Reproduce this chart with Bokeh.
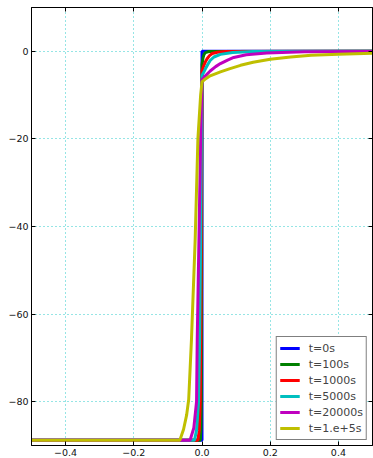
from bokeh.plotting import figure
from bokeh.models import FixedTicker, LinearAxis, Range1d, Legend, LegendItem
from bokeh.embed import file_html
from bokeh.resources import INLINE

# ---- data ----
labels = ["t=0s", "t=100s", "t=1000s", "t=5000s", "t=20000s", "t=1.e+5s"]
colors = ["#0000ff", "#008000", "#ff0000", "#00bfbf", "#bf00bf", "#bfbf00"]

x_t0 = [-0.5, 0.0, 0.0, 0.5]
y_t0 = [-88.8, -88.8, 0.0, 0.0]

x_t100 = [-0.5, -0.005, -0.003, -0.002, -0.001, 0.0, 0.003, 0.006, 0.01, 0.02, 0.5]
y_t100 = [-88.8, -88.8, -86.0, -80.0, -40.0, -3.0, -1.5, -0.7, -0.3, -0.05, 0.0]

x_t1000 = [-0.5, -0.012, -0.008, -0.005, -0.003, -0.001, 0.0, 0.005, 0.01, 0.015, 0.022, 0.03, 0.045, 0.07, 0.5]
y_t1000 = [-88.8, -88.8, -86.5, -80.0, -60.0, -20.0, -4.5, -3.3, -2.4, -1.7, -1.0, -0.5, -0.2, -0.05, 0.0]

x_t5000 = [-0.5, -0.022, -0.016, -0.010, -0.007, -0.004, -0.002, 0.0, 0.005, 0.01, 0.017, 0.024, 0.035, 0.054, 0.09, 0.15, 0.5]
y_t5000 = [-88.8, -88.8, -86.5, -80.0, -66.0, -43.0, -20.0, -5.5, -4.8, -4.0, -3.0, -2.1, -1.3, -0.7, -0.25, -0.05, 0.0]

x_t20000 = [-0.5, -0.035, -0.024, -0.016, -0.014, -0.009, -0.004, -0.001, 0.0, 0.01, 0.024, 0.04, 0.054, 0.075, 0.093, 0.13, 0.19, 0.3, 0.5]
y_t20000 = [-88.8, -88.8, -86.0, -80.0, -66.0, -43.0, -20.0, -10.0, -6.5, -5.6, -4.5, -3.5, -2.8, -2.0, -1.4, -0.8, -0.4, -0.12, -0.02]

x_t1e5 = [-0.5, -0.065, -0.054, -0.045, -0.039, -0.031, -0.020, -0.012, -0.004, 0.0, 0.01, 0.024, 0.054, 0.08, 0.113, 0.15, 0.2, 0.26, 0.32, 0.4, 0.5]
y_t1e5 = [-88.8, -88.8, -86.3, -83.0, -79.5, -66.0, -43.0, -20.0, -10.0, -7.0, -6.3, -5.6, -4.7, -4.0, -3.2, -2.5, -1.8, -1.3, -0.9, -0.65, -0.45]

x_ticks = [-0.4, -0.2, 0.0, 0.2, 0.4]
x_tick_labels = ["\u22120.4", "\u22120.2", "0.0", "0.2", "0.4"]
y_ticks = [-80, -60, -40, -20, 0]
y_tick_labels = ["\u221280", "\u221260", "\u221240", "\u221220", "0"]

series_x = [x_t0, x_t100, x_t1000, x_t5000, x_t20000, x_t1e5]
series_y = [y_t0, y_t100, y_t1000, y_t5000, y_t20000, y_t1e5]

FONT = "DejaVu Sans"

p = figure(width=373, height=458, output_backend="svg", toolbar_location=None,
           x_range=Range1d(-0.5, 0.5), y_range=Range1d(-90, 10),
           min_border_left=31, min_border_right=1, min_border_top=7, min_border_bottom=12)
p.outline_line_color = "black"
p.outline_line_width = 1
p.background_fill_color = "white"
p.border_fill_color = "white"

renderers = []
for xs, ys, c in zip(series_x, series_y, colors):
    r = p.line(xs, ys, line_color=c, line_width=3)
    renderers.append(r)

# axes
for ax in p.xaxis:
    ax.ticker = FixedTicker(ticks=x_ticks)
    ax.major_label_overrides = {t: l for t, l in zip(x_ticks, x_tick_labels)}
for ax in p.yaxis:
    ax.ticker = FixedTicker(ticks=y_ticks)
    ax.major_label_overrides = {t: l for t, l in zip(y_ticks, y_tick_labels)}

for ax in list(p.xaxis) + list(p.yaxis):
    ax.major_tick_in = 4
    ax.major_tick_out = 0
    ax.minor_tick_line_color = None
    ax.major_label_text_font = FONT
    ax.major_label_text_font_size = "9.5px"
    ax.major_label_text_color = "#111111"
    ax.axis_line_color = "black"
    ax.major_tick_line_color = "black"
    ax.major_label_standoff = 3

# tick marks only (no labels) on top and right, as in the reference
top = LinearAxis(ticker=FixedTicker(ticks=x_ticks),
                 major_label_overrides={t: "" for t in x_ticks},
                 major_tick_in=4, major_tick_out=0, minor_tick_line_color=None,
                 major_label_standoff=0, axis_line_color="black")
right = LinearAxis(ticker=FixedTicker(ticks=y_ticks),
                   major_label_overrides={t: "" for t in y_ticks},
                   major_tick_in=4, major_tick_out=0, minor_tick_line_color=None,
                   major_label_standoff=0, axis_line_color="black")
p.add_layout(top, "above")
p.add_layout(right, "right")

# grid
for g in list(p.xgrid) + list(p.ygrid):
    g.grid_line_color = "#2ccaca"
    g.grid_line_dash = "1 3"
    g.grid_line_width = 1
p.xgrid.ticker = FixedTicker(ticks=x_ticks)
p.ygrid.ticker = FixedTicker(ticks=y_ticks)

legend = Legend(items=[LegendItem(label=l, renderers=[r]) for l, r in zip(labels, renderers)],
                location="bottom_right")
legend.border_line_color = "black"
legend.border_line_width = 1
legend.background_fill_color = "white"
legend.background_fill_alpha = 1
legend.label_text_font = FONT
legend.label_text_font_size = "11px"
legend.glyph_width = 20
legend.glyph_height = 16
legend.label_height = 16
legend.spacing = 0
legend.padding = 3
legend.label_standoff = 9
legend.margin = 5
p.add_layout(legend, "center")

open("out.html", "w").write(file_html(p, INLINE))
